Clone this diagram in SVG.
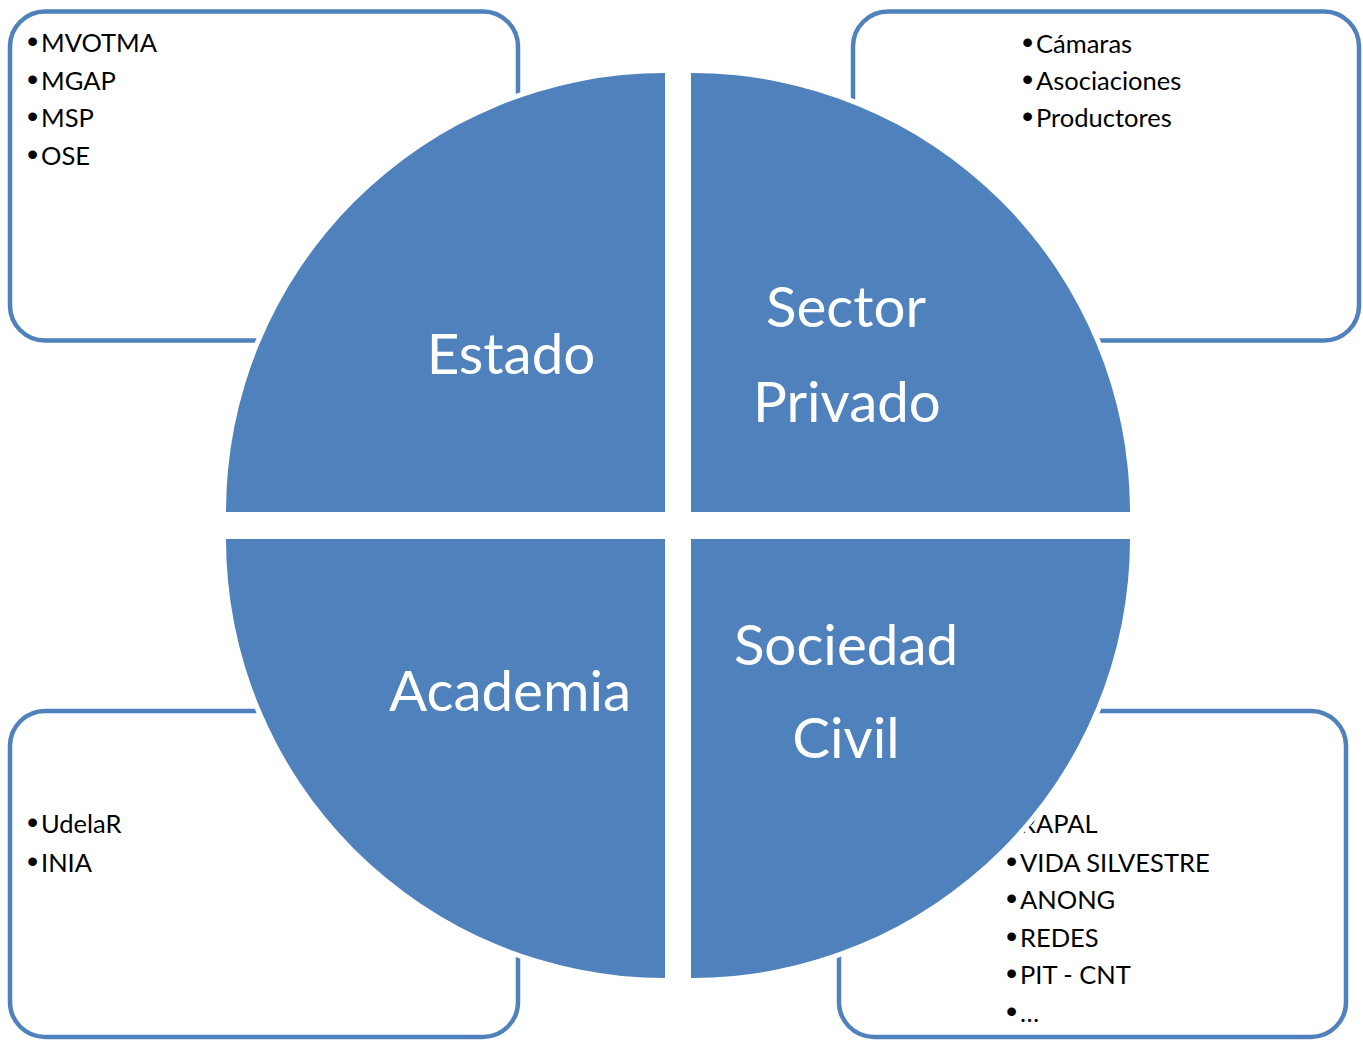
<svg xmlns="http://www.w3.org/2000/svg" width="1363" height="1040" viewBox="0 0 1363 1040">
<style>
.box{fill:#fff;stroke:#4F81BD;stroke-width:4.5}
.quad{fill:#4F81BD;stroke:#fff;stroke-width:10;paint-order:stroke}
.item{font-family:Lato,"Liberation Sans",sans-serif;font-size:25.5px;fill:#000}
.bul{font-family:"Liberation Sans",sans-serif;font-size:32px}
.label{font-family:Lato,"Liberation Sans",sans-serif;font-size:56.5px;fill:#fff;text-anchor:middle}
</style>
<rect width="1363" height="1040" fill="#fff"/>
<g id="box-estado">
<rect class="box" x="10" y="11.5" width="508" height="329" rx="35"/>
<text class="item" y="52"><tspan class="bul" x="27">•</tspan><tspan x="41">MVOTMA</tspan></text>
<text class="item" y="89.5"><tspan class="bul" x="27">•</tspan><tspan x="41">MGAP</tspan></text>
<text class="item" y="127.3"><tspan class="bul" x="27">•</tspan><tspan x="41">MSP</tspan></text>
<text class="item" y="165"><tspan class="bul" x="27">•</tspan><tspan x="41">OSE</tspan></text>
</g>
<g id="box-privado">
<rect class="box" x="853" y="11.5" width="506" height="329" rx="35"/>
<text class="item" y="52.5"><tspan class="bul" x="1022">•</tspan><tspan x="1036">Cámaras</tspan></text>
<text class="item" y="89.5"><tspan class="bul" x="1022">•</tspan><tspan x="1036">Asociaciones</tspan></text>
<text class="item" y="127.3"><tspan class="bul" x="1022">•</tspan><tspan x="1036">Productores</tspan></text>
</g>
<g id="box-academia">
<rect class="box" x="10" y="711" width="508" height="326" rx="35"/>
<text class="item" y="833"><tspan class="bul" x="27">•</tspan><tspan x="41">UdelaR</tspan></text>
<text class="item" y="871.5"><tspan class="bul" x="27">•</tspan><tspan x="41">INIA</tspan></text>
</g>
<g id="box-civil">
<rect class="box" x="839" y="711" width="507" height="326" rx="35"/>
<text class="item" y="833"><tspan class="bul" x="1006">•</tspan><tspan x="1020">RAPAL</tspan></text>
<text class="item" y="871.5"><tspan class="bul" x="1006">•</tspan><tspan x="1020">VIDA SILVESTRE</tspan></text>
<text class="item" y="909"><tspan class="bul" x="1006">•</tspan><tspan x="1020">ANONG</tspan></text>
<text class="item" y="946.5"><tspan class="bul" x="1006">•</tspan><tspan x="1020">REDES</tspan></text>
<text class="item" y="984"><tspan class="bul" x="1006">•</tspan><tspan x="1020">PIT - CNT</tspan></text>
<text class="item" y="1021.5"><tspan class="bul" x="1006">•</tspan><tspan x="1020">…</tspan></text>
</g>
<g id="connectors"/>
<g id="quad-estado">
<path class="quad" d="M665,512 L226,512 A439,439 0 0 1 665,73 Z"/>
<text class="label" x="511" y="374">Estado</text>
</g>
<g id="quad-privado">
<path class="quad" d="M691,512 L691,73 A439,439 0 0 1 1130,512 Z"/>
<text class="label" x="846" y="327">Sector</text>
<text class="label" x="847" y="422">Privado</text>
</g>
<g id="quad-academia">
<path class="quad" d="M665,539 L665,978 A439,439 0 0 1 226,539 Z"/>
<text class="label" x="510" y="711">Academia</text>
</g>
<g id="quad-civil">
<path class="quad" d="M691,539 L1130,539 A439,439 0 0 1 691,978 Z"/>
<text class="label" x="846" y="665">Sociedad</text>
<text class="label" x="846" y="758">Civil</text>
</g>
</svg>
